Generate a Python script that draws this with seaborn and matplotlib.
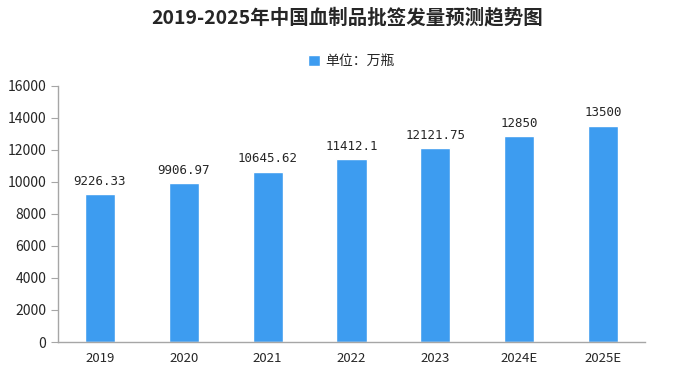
import matplotlib
matplotlib.use("Agg")
import matplotlib.pyplot as plt
import seaborn as sns
from pandas import DataFrame

years = ["2019", "2020", "2021", "2022", "2023", "2024E", "2025E"]
values = [9226.33, 9906.97, 10645.62, 11412.1, 12121.75, 12850, 13500]
labels = ["9226.33", "9906.97", "10645.62", "11412.1", "12121.75", "12850", "13500"]
series_name = "单位：万瓶"
title = "2019-2025年中国血制品批签发量预测趋势图"

bar_color = "#3d9cf0"
axis_color = "#a6a6a6"


def main():
    sns.set_style("white")
    plt.rcParams['font.family'] = ['Noto Sans CJK SC', 'DejaVu Sans']

    df = DataFrame({"year": years, "value": values, "series": series_name})

    fig = plt.figure(figsize=(6.77, 3.80), dpi=100)
    ax = fig.add_axes([0.0857, 0.1, 0.867, 0.674])

    sns.barplot(data=df, x="year", y="value", hue="series", palette=[bar_color],
                width=0.36, ax=ax, legend=True, saturation=1)

    for i, (v, lab) in enumerate(zip(values, labels)):
        ax.text(i, v + 400, lab, ha="center", va="bottom", fontsize=9,
                color="#262626", family=['DejaVu Sans Mono'])

    ax.set_ylim(0, 16000)
    ax.set_yticks(range(0, 16001, 2000))
    ax.set_xlim(-0.5, len(years) - 0.5)
    ax.set_xlabel("")
    ax.set_ylabel("")

    for side in ["top", "right"]:
        ax.spines[side].set_visible(False)
    for side in ["left", "bottom"]:
        ax.spines[side].set_color(axis_color)
        ax.spines[side].set_linewidth(1)

    # x ticks sit between categories
    ax.set_xticks([i + 0.5 for i in range(-1, len(years))], minor=True)
    ax.tick_params(axis="x", which="minor", length=5, color=axis_color, direction="out")
    ax.tick_params(axis="x", which="major", length=0, labelsize=9.5, colors="#262626", pad=7)
    ax.tick_params(axis="y", length=5, color=axis_color, direction="out", labelsize=10,
                   colors="#262626", left=True)

    ax.legend(loc="lower center", bbox_to_anchor=(0.5, 1.02), frameon=False,
              fontsize=10, handlelength=0.8, handleheight=0.8, handletextpad=0.4)

    fig.suptitle(title, x=0.513, y=0.98, fontsize=14, fontweight="bold", color="#262626")

    plt.savefig("out.png", dpi=100)


if __name__ == "__main__":
    main()
